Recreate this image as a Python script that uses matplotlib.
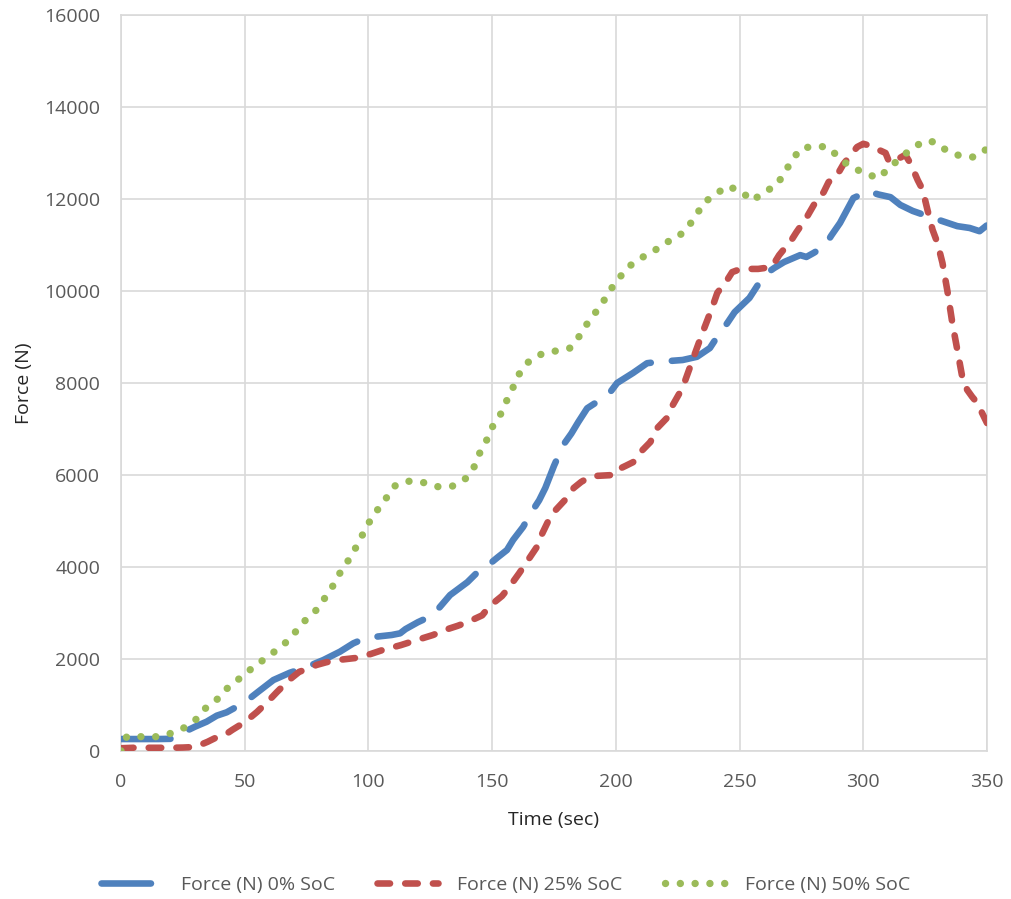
import matplotlib.pyplot as plt

# Force vs time, three states of charge
t_0 = [0, 5, 10, 15, 20.5, 25, 29.9, 34.6, 38.7, 42.7, 46.8, 51, 55.5, 61.6, 68.3, 73.7,
       81.8, 88.5, 93.9, 98.6, 104, 109.4, 112.8, 115, 120, 126, 133, 140, 144.5, 148.4,
       152, 156, 158.5, 162.5, 166, 169, 171.5, 175, 178.7, 182, 184.8, 188.4, 192.4,
       197.7, 200.5, 207, 212.6, 217, 222, 227, 232.8, 238, 242, 245, 248, 254, 260, 264,
       268, 274.5, 277, 280, 284.5, 287, 290.6, 296, 302, 306, 311, 315, 320, 328, 333,
       338, 343, 347, 350]
f_0 = [260, 260, 260, 260, 265, 400, 528, 637, 768, 841, 963, 1100, 1290, 1543, 1703, 1797,
       1978, 2159, 2341, 2450, 2490, 2522, 2558, 2650, 2800, 2950, 3390, 3670, 3910, 4040,
       4200, 4370, 4590, 4870, 5200, 5450, 5720, 6200, 6650, 6900, 7150, 7450, 7590,
       7800, 8000, 8220, 8430, 8460, 8480, 8500, 8570, 8760, 9090, 9300, 9540, 9850, 10350, 10500,
       10630, 10780, 10740, 10830, 10980, 11200, 11480, 12020, 12170, 12100, 12040, 11870, 11740, 11590, 11500,
       11410, 11370, 11300, 11430]

t_25 = [0, 5, 10, 15, 20, 25, 30, 35, 38, 42, 45, 48, 51, 55, 60, 63, 66, 69, 72, 76, 79,
        83, 88, 94.5, 101, 106, 113, 120, 126, 132, 136, 140, 146, 149, 154, 157, 161, 164,
        168, 170, 172.5, 175, 179.5, 183, 186, 189.5, 192, 199, 200.5, 204, 207, 210, 214,
        216, 221, 223, 227, 231, 235, 239, 241, 245, 247, 250, 253, 257.5, 263, 266, 271,
        273, 277, 280, 284, 286, 289, 292, 295, 297.5, 300, 302, 305, 309, 310.5, 314, 317,
        319, 322, 324, 326, 328, 330, 332, 334, 336, 338, 340, 342, 344, 346, 348, 350]
f_25 = [60, 70, 70, 70, 70, 75, 87, 200, 280, 350, 460, 560, 670, 850, 1110, 1280, 1440, 1590, 1720, 1800, 1870,
        1930, 1980, 2020, 2110, 2200, 2300, 2420, 2520, 2650, 2720, 2800, 2950, 3150, 3370, 3570, 3870, 4110,
        4430, 4700, 4980, 5200, 5460, 5720, 5850, 5960, 5980, 6000, 6110, 6200, 6280, 6500, 6720,
        6980, 7260, 7520, 7900, 8500, 9090, 9650, 9960, 10240, 10410, 10470, 10480, 10480, 10520, 10780, 11110,
        11280, 11590, 11870, 12150, 12370, 12480, 12760, 12960, 13130, 13200, 13170, 13100, 13000, 12800, 12870, 12960,
        12780, 12410, 12200, 11750, 11330, 11040, 10610, 10000, 9300, 8720, 8130, 7850, 7700, 7570, 7350, 7130]

t_50 = [0, 2.3, 8.4, 14.4, 20.2, 25.9, 30.7, 34.6, 39.2, 43.2, 47.8, 52.4, 57.3, 62, 66.7,
        70.7, 74.6, 78.8, 82.3, 85.7, 88.5, 91.9, 95, 97.8, 100.6, 103.9, 107.5, 111, 116.8,
        123, 128.5, 134, 139.5, 143, 145, 148, 150.5, 153.5, 156, 158.5, 161, 165, 170, 176,
        181.5, 185, 188.3, 191.6, 194.8, 198, 201, 205, 209.5, 215, 219.5, 224.7, 228.8,
        232.4, 235.3, 240, 245, 250.6, 255, 260, 265, 268, 271, 274.5, 280, 285.8, 290, 294.7,
        300, 306, 310, 314.5, 319, 324.5, 329, 334, 339.5, 345, 350]
f_50 = [0, 311, 311, 311, 384, 514, 703, 957, 1138, 1377, 1572, 1775, 1971, 2159, 2363,
        2601, 2848, 3058, 3319, 3594, 3870, 4145, 4430, 4720, 5000, 5260, 5520, 5780, 5870,
        5830, 5740, 5760, 5930, 6200, 6480, 6780, 7090, 7330, 7630, 7910, 8200, 8480, 8630, 8700,
        8760, 9000, 9280, 9520, 9760, 10040, 10260, 10520, 10700, 10850, 11040, 11150, 11370,
        11630, 11910, 12090, 12280, 12170, 11960, 12150, 12300, 12560, 12820, 13090, 13150, 13130, 12910, 12700,
        12580, 12450, 12650, 12870, 13070, 13260, 13240, 13040, 12930, 12910, 13090]

labels = ['Force (N) 0% SoC', 'Force (N) 25% SoC', 'Force (N) 50% SoC']

plt.rcParams['font.family'] = ['Open Sans', 'DejaVu Sans']
txt = '#595959'
fs = 14

fig = plt.figure(figsize=(10.11, 8.99), dpi=100)
ax = fig.add_axes([121 / 1011, 1 - 751 / 899, 866 / 1011, 736 / 899])

lw = 4.75
ax.plot(t_0, f_0, color='#4F81BD', lw=lw, dashes=(7.5, 3.2), dash_capstyle='round',
        label=labels[0], zorder=3)
ax.plot(t_25, f_25, color='#C0504D', lw=lw, dashes=(1.9, 2.3), dash_capstyle='round',
        label=labels[1], zorder=3)
ax.plot(t_50, f_50, color='#9BBB59', lw=5.3, dashes=(0.01, 2.0), dash_capstyle='round',
        label=labels[2], zorder=3)

ax.set_xlim(0, 350)
ax.set_ylim(0, 16000)
ax.set_xticks(range(0, 351, 50))
ax.set_yticks(range(0, 16001, 2000))
ax.grid(True, color='#d9d9d9', lw=1.2)
ax.set_axisbelow(True)
for s in ax.spines.values():
    s.set_color('#d9d9d9')
    s.set_linewidth(1.2)
ax.tick_params(length=0, labelsize=fs, labelcolor=txt)
ax.tick_params(axis='y', pad=15)
ax.tick_params(axis='x', pad=16)

ax.set_xlabel('Time (sec)', fontsize=fs, color='#262626', labelpad=14)
ax.set_ylabel('Force (N)', fontsize=fs, color='#262626', labelpad=8)

fig.legend(loc='center', bbox_to_anchor=(0.5, 1 - 885 / 899), ncol=3, frameon=False,
           fontsize=fs, handlelength=3.1, handletextpad=1.0, columnspacing=2.2,
           labelcolor=txt)

fig.savefig('out.png', dpi=100)
